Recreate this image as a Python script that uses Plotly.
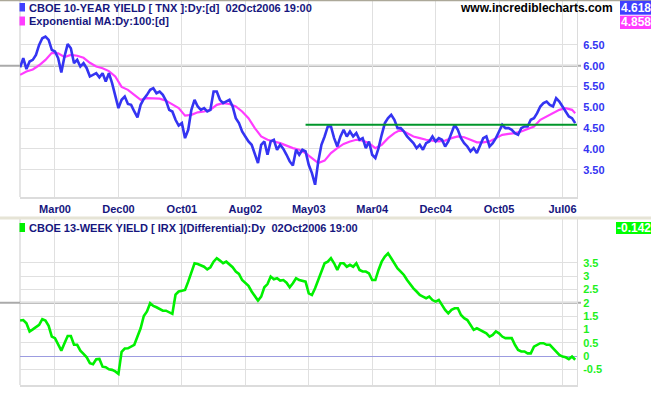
import plotly.graph_objects as go

# ---------------- data ----------------
# x axis: trading-day index, one sample every 10 trading days
day_index = list(range(0, 1751, 10))
ma_day_index = list(range(0, 1741, 20)) + [1750]

grid_days = [110, 310, 510, 710, 910, 1110, 1310, 1510, 1710]
date_labels = ["Mar00", "Dec00", "Oct01", "Aug02", "May03", "Mar04", "Dec04", "Oct05", "Jul06"]

tnx_yield = [
    5.96, 6.18, 5.92, 6.10, 6.14, 6.26, 6.50, 6.66, 6.70, 6.62,
    6.38, 6.34, 6.18, 5.84, 6.22, 6.52, 6.42, 6.06, 6.14, 5.98,
    6.06, 5.94, 5.74, 5.78, 5.82, 5.72, 5.82, 5.62, 5.82, 5.58,
    5.24, 4.98, 5.18, 5.26, 5.08, 5.06, 4.90, 4.76, 5.06, 5.20,
    5.30, 5.42, 5.46, 5.34, 5.38, 5.30, 5.16, 4.94, 4.90, 4.70,
    4.56, 4.62, 4.26, 4.46, 4.94, 5.18, 5.02,
    4.94, 4.98, 4.90, 4.94, 5.38, 5.38, 5.18, 5.10, 5.14, 5.18,
    5.02, 4.74, 4.62, 4.42, 4.30, 4.18, 4.10, 3.86, 3.66, 4.10,
    4.18, 3.86, 4.18, 4.22, 3.98, 4.10, 4.00, 3.86, 3.70, 3.60,
    3.98, 3.86, 3.98, 3.94, 3.62, 3.42, 3.14, 3.70, 4.10, 4.30,
    4.54, 4.54, 4.26, 4.06, 4.30, 4.46, 4.30, 4.42, 4.30, 4.38,
    4.22, 4.26, 4.02, 4.18, 3.86, 3.78, 4.02, 4.34, 4.62, 4.74,
    4.82, 4.70, 4.50,
    4.50, 4.42, 4.30, 4.22, 4.14, 4.02, 4.10, 3.98, 4.14, 4.18,
    4.30, 4.18, 4.26, 4.22, 4.06, 4.18, 4.38, 4.58, 4.46, 4.26,
    4.14, 4.06, 3.94, 4.02, 3.90, 4.10, 4.26, 4.30, 4.06, 4.14,
    4.26, 4.42, 4.58, 4.50, 4.50, 4.46, 4.38, 4.34, 4.50, 4.54,
    4.54, 4.70, 4.74, 4.86, 5.02, 5.10, 5.14, 5.06, 5.02, 5.22,
    5.14, 5.02, 4.90, 4.78, 4.74, 4.62,
]

ema_100 = [
    5.78, 5.86, 5.91, 6.01, 6.14, 6.31, 6.30, 6.21, 6.26, 6.24,
    6.19, 6.07, 5.98, 5.94, 5.87, 5.74, 5.49, 5.42, 5.30, 5.18,
    5.22, 5.22, 5.21, 5.16, 5.08, 4.98, 4.80, 4.82, 4.88, 4.90,
    4.94, 5.06, 5.10, 5.08, 5.02, 4.90, 4.74, 4.50, 4.30, 4.22,
    4.18, 4.14, 4.08, 4.02, 3.98, 3.90, 3.78, 3.66, 3.72, 3.90,
    4.02, 4.12, 4.18, 4.22, 4.20, 4.14, 4.02, 4.10, 4.26, 4.38,
    4.46, 4.38, 4.30, 4.26, 4.22, 4.20, 4.18, 4.20, 4.26, 4.30,
    4.28, 4.22, 4.16, 4.16, 4.18, 4.26, 4.34, 4.36, 4.38, 4.42,
    4.48, 4.54, 4.70, 4.78, 4.86, 4.94, 4.98, 4.94,
    4.86,
]

irx_diff = [
    1.33, 1.35, 1.23, 0.92, 1.00, 1.10, 1.17, 1.38, 1.33, 1.13,
    0.73, 0.67, 0.45, 0.20, 0.48, 0.75, 0.75, 0.42, 0.42, 0.20,
    0.08, -0.05, -0.27, -0.31, -0.12, -0.11, -0.40, -0.42, -0.50, -0.52,
    -0.58, -0.67, 0.16, 0.28, 0.29, 0.35, 0.42, 0.73, 1.04, 1.50,
    1.67, 1.98, 1.88, 1.83, 1.75, 1.70, 1.70, 1.63, 1.58, 2.30,
    2.42, 2.45, 2.48, 2.79, 3.10, 3.48, 3.45, 3.40, 3.35, 3.25,
    3.33, 3.54, 3.67, 3.58, 3.48, 3.54, 3.45, 3.33, 3.17, 3.08,
    2.85, 2.75, 2.63, 2.42, 2.23, 2.08, 2.23, 2.58, 2.70, 2.98,
    2.88, 2.92, 2.83, 2.85, 2.75, 2.58, 2.73, 2.92, 2.85,
    2.83, 2.79, 2.35, 2.29, 2.54, 2.85, 3.23, 3.48, 3.54, 3.67,
    3.48, 3.23, 3.48, 3.48, 3.35, 3.42, 3.35, 3.48, 3.23, 3.17,
    3.17, 3.10, 2.85, 2.85, 3.23, 3.54, 3.73, 3.85, 3.67, 3.48,
    3.29, 3.17, 3.04, 2.85, 2.67, 2.54, 2.42, 2.29, 2.23, 2.17,
    2.23, 2.10, 2.04, 2.10, 1.92, 1.73, 1.60, 1.73, 1.79, 1.79,
    1.54, 1.42, 1.35, 1.17, 0.98, 1.04, 0.98, 0.92, 0.85, 0.73,
    0.79, 0.92, 0.85, 0.73, 0.67, 0.67, 0.67, 0.42, 0.23, 0.17,
    0.17, 0.10, 0.10, 0.35, 0.42, 0.48, 0.48, 0.42, 0.42, 0.29,
    0.17, 0.04, -0.02, -0.05, -0.12, -0.02, -0.14,
]

support_level = 4.58
support_start_day = 900

top_ticks = [3.5, 4.0, 4.5, 5.0, 5.5, 6.0, 6.5]
top_tick_text = ["3.50", "4.00", "4.50", "5.00", "5.50", "6.00", "6.50"]
bot_ticks = [-0.5, 0, 0.5, 1, 1.5, 2, 2.5, 3, 3.5]
bot_tick_text = ["-0.5", "0", "0.5", "1", "1.5", "2", "2.5", "3", "3.5"]

last_tnx = "4.618"
last_ema = "4.858"
last_irx = "-0.142"

# ---------------- styling ----------------
W, H = 651, 395
ML, MR, MT, MB = 20, 74, 1, 10
PW = W - ML - MR
PH = H - MT - MB


def px_x(p):
    return (p - ML) / PW


def px_y(p):
    return (H - MB - p) / PH


FONT = "Liberation Sans, Arial, sans-serif"
NAVY = "#16167e"
BLUE = "#3434f2"
MAGENTA = "#ff3cff"
GREEN = "#00f000"
GRID = "#e0e0e0"
XMAX = 1755.7

fig = go.Figure()

fig.add_trace(go.Scatter(x=ma_day_index, y=ema_100, mode="lines",
                         line=dict(color=MAGENTA, width=2.2), xaxis="x", yaxis="y",
                         hoverinfo="skip"))
fig.add_trace(go.Scatter(x=day_index, y=tnx_yield, mode="lines",
                         line=dict(color=BLUE, width=2.6), xaxis="x", yaxis="y",
                         hoverinfo="skip"))
fig.add_trace(go.Scatter(x=[support_start_day, XMAX], y=[support_level, support_level],
                         mode="lines", line=dict(color="#00962a", width=2),
                         xaxis="x", yaxis="y", hoverinfo="skip"))
fig.add_trace(go.Scatter(x=day_index, y=irx_diff, mode="lines",
                         line=dict(color=GREEN, width=2.6), xaxis="x2", yaxis="y2",
                         hoverinfo="skip"))

top_dom = [px_y(197), 1.0]
bot_dom = [0.0, px_y(219)]

axis_common = dict(range=[-0.3, XMAX], tickmode="array", tickvals=grid_days,
                   showgrid=True, gridcolor=GRID, gridwidth=1, zeroline=False,
                   ticks="", ticklen=0, showline=True, linecolor="#dcdcdc", linewidth=2)

fig.update_layout(
    width=W, height=H,
    margin=dict(l=ML, r=MR, t=MT, b=MB),
    paper_bgcolor="white", plot_bgcolor="white",
    showlegend=False,
    hovermode=False,
    xaxis=dict(domain=[0, 1], anchor="y", ticktext=date_labels, showticklabels=True,
               ticklabelstandoff=1,
               tickfont=dict(family=FONT, size=11, color=NAVY, weight="bold"),
               **axis_common),
    xaxis2=dict(domain=[0, 1], anchor="y2", showticklabels=False, **axis_common),
    yaxis=dict(domain=top_dom, anchor="x", side="right", range=[2.845, 7.555],
               tickmode="array", tickvals=top_ticks, ticktext=top_tick_text,
               showgrid=True, gridcolor=GRID, zeroline=False, ticks="", ticklen=0,
               ticklabelstandoff=3,
               showline=True, linecolor="#dcdcdc", linewidth=1,
               tickfont=dict(family=FONT, size=11, color=BLUE, weight="bold")),
    yaxis2=dict(domain=bot_dom, anchor="x2", side="right", range=[-1.088, 5.141],
                tickmode="array", tickvals=bot_ticks, ticktext=bot_tick_text,
                showgrid=True, gridcolor=GRID, zeroline=True,
                zerolinecolor="#9c9ce0", zerolinewidth=1, ticks="", ticklen=0,
                ticklabelstandoff=3,
                showline=True, linecolor="#dcdcdc", linewidth=1,
                tickfont=dict(family=FONT, size=11, color="#1ef01e", weight="bold")),
)

shapes = []
# left borders of both panels
for dom in (top_dom, bot_dom):
    shapes.append(dict(type="line", xref="paper", yref="paper", x0=0, x1=0,
                       y0=dom[0], y1=dom[1], line=dict(color="#dcdcdc", width=1.5),
                       layer="below"))
# reference lines at 6.00 and 2
shapes.append(dict(type="line", xref="paper", yref="y", x0=px_x(0), x1=px_x(581),
                   y0=6.0, y1=6.0, line=dict(color="#aaaaaa", width=2), layer="below"))
shapes.append(dict(type="line", xref="paper", yref="y2", x0=px_x(0), x1=px_x(581),
                   y0=2.0, y1=2.0, line=dict(color="#aaaaaa", width=2), layer="below"))
# top border and panel separator
shapes.append(dict(type="rect", xref="paper", yref="paper", x0=px_x(0), x1=px_x(651),
                   y0=px_y(1.2), y1=px_y(0), fillcolor="#aca899", line=dict(width=0)))
shapes.append(dict(type="rect", xref="paper", yref="paper", x0=px_x(0), x1=px_x(651),
                   y0=px_y(219.5), y1=px_y(216.5), fillcolor="#e6e4d6", line=dict(width=0)))
# legend squares
for (y0, y1, col) in ((3, 11.5, "#4040ff"), (16.5, 25.5, MAGENTA), (223, 232, GREEN)):
    shapes.append(dict(type="rect", xref="paper", yref="paper", x0=px_x(19.5), x1=px_x(25),
                       y0=px_y(y1), y1=px_y(y0), fillcolor=col, line=dict(width=0)))
# last-value boxes
value_boxes = [(last_tnx, 620, 0.7, 14.7, "#3f3fff"),
               (last_ema, 620, 15.7, 29.0, MAGENTA),
               (last_irx, 616, 222.0, 234.0, "#00ff00")]
for (_, bx0, by0, by1, col) in value_boxes:
    shapes.append(dict(type="rect", xref="paper", yref="paper", x0=px_x(bx0), x1=px_x(651),
                       y0=px_y(by1), y1=px_y(by0), fillcolor=col, line=dict(width=0)))
fig.update_layout(shapes=shapes)

ann = []


def text_ann(txt, x, y, color=NAVY, size=11, xanchor="left"):
    ann.append(dict(text=txt, x=px_x(x), y=px_y(y), xref="paper", yref="paper",
                    xanchor=xanchor, yanchor="middle", showarrow=False,
                    font=dict(family=FONT, size=size, color=color, weight="bold")))


text_ann("CBOE 10-YEAR YIELD [ TNX ]:Dy:[d]&nbsp;&nbsp;02Oct2006 19:00", 27, 7.5)
text_ann("Exponential MA:Dy:100:[d]", 27, 21)
text_ann("CBOE 13-WEEK YIELD [ IRX ](Differential):Dy&nbsp;&nbsp;02Oct2006 19:00", 27, 228)
text_ann("www.incrediblecharts.com", 615, 7.5, color="black", size=12, xanchor="right")

for (txt, bx0, by0, by1, _) in value_boxes:
    text_ann(txt, (bx0 + 651) / 2 + 0.5, (by0 + by1) / 2, color="white", size=12,
             xanchor="center")

fig.update_layout(annotations=ann)

fig.write_html("out.html", config={"displayModeBar": False},
               post_script="document.body.style.margin='0px';")
